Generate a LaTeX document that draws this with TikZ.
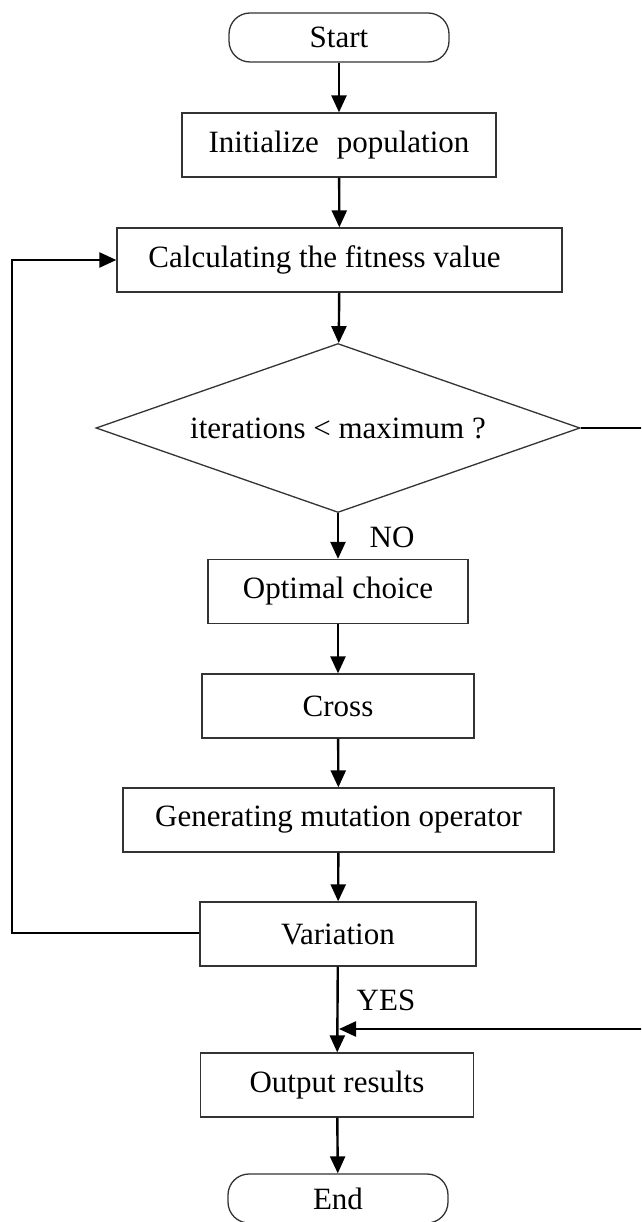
\documentclass[tikz,border=0pt]{standalone}
\usepackage{fontspec}
\setmainfont{Liberation Serif}
\usetikzlibrary{arrows.meta,shapes.geometric}
\begin{document}
\begin{tikzpicture}[x=1pt,y=-1pt,
  txt/.style={font=\fontsize{31}{37}\selectfont},
  box/.style={txt,draw=black!80,line width=1.3pt,inner sep=0pt,minimum height=64pt},
  term/.style={box,rounded corners=21pt,minimum width=220pt,minimum height=49pt},
  decision/.style={txt,draw=black!80,line width=1.3pt,diamond,shape aspect=2.86,
    inner sep=0pt,minimum width=484pt,minimum height=169pt},
  flow/.style={line width=2.4pt,-{Triangle[length=17pt,width=15pt]}},
  link/.style={line width=2.4pt}]
  \useasboundingbox (0,0) rectangle (641,1222);
  \clip (0,0) rectangle (641,1222);
  \fill[white] (0,0) rectangle (641,1222);

  % process steps
  \node[term] (start) at (339,37.5) {Start};
  \node[box,minimum width=314pt] (init) at (339,145) {Initialize\,\, population};
  \node[box,minimum width=445pt] (calc) at (339.5,260) {Calculating the fitness value\kern30pt};
  \node[decision] (dec) at (338,428) {iterations < maximum ?};
  \node[box,minimum width=260pt] (opt) at (338,591.5) {Optimal choice};
  \node[box,minimum width=272pt] (cross) at (338,706) {Cross};
  \node[box,minimum width=431pt] (mut) at (338.5,820) {Generating mutation operator};
  \node[box,minimum width=276pt] (var) at (338,934) {Variation};
  \node[box,minimum width=273pt] (out) at (337,1085) {Output results};
  \node[term] (end) at (338,1198.5) {End};

  % branch labels
  \node[txt] (no) at (392,537) {NO};
  \node[txt] (yes) at (386,1000) {YES};

  % main flow
  \draw[flow] (start) -- (init);
  \draw[flow] (init) -- (calc);
  \draw[flow] (calc) -- (dec);
  \draw[flow] (dec) -- (opt);
  \draw[flow] (opt) -- (cross);
  \draw[flow] (cross) -- (mut);
  \draw[flow] (mut) -- (var);
  \draw[flow] (var) -- (out);
  \draw[flow] (out) -- (end);

  % loop back to the fitness evaluation
  \coordinate (loopleft) at (12,933);
  \draw[flow] (var.west |- loopleft) -- (loopleft) |- (calc.west);

  % exit branch joining above the output step
  \coordinate (exitright) at (660,428);
  \coordinate (merge) at (339,1029);
  \draw[link] (dec.east) -- (exitright);
  \draw[flow] (exitright) |- (merge);
\end{tikzpicture}
\end{document}
